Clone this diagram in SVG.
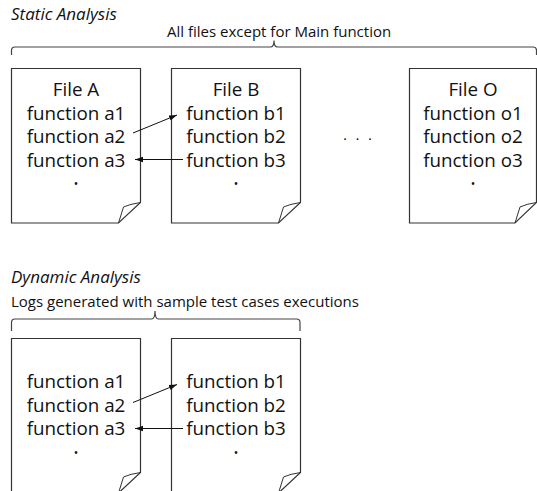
<svg xmlns="http://www.w3.org/2000/svg" width="537" height="491" viewBox="0 0 537 491">
<defs>
<style>
.doc{fill:#fff;stroke:#333;stroke-width:1.2;stroke-linejoin:miter}
.fold{fill:none;stroke:#333;stroke-width:1}
.t{font-family:"Open Sans","Noto Sans","DejaVu Sans",sans-serif;font-size:18.8px;fill:#111;text-anchor:middle}
.dot{font-family:"Open Sans","DejaVu Sans",sans-serif;font-size:12px;fill:#111;text-anchor:middle}
.title{font-family:"Open Sans","Noto Sans",sans-serif;font-size:17px;font-style:italic;fill:#111}
.lbl{font-family:"Open Sans","Noto Sans",sans-serif;font-size:15px;fill:#111}
.brace{fill:none;stroke:#444;stroke-width:1.2}
.conn{fill:none;stroke:#111;stroke-width:1}
</style>
<marker id="ah" markerWidth="9" markerHeight="7" refX="8" refY="3.5" orient="auto" markerUnits="userSpaceOnUse">
<path d="M0,0.7 L8,3.5 L0,6.3 Z" fill="#111"/>
</marker>
</defs>
<rect width="537" height="491" fill="#fff"/>

<text class="title" x="11" y="20">Static Analysis</text>
<text class="lbl" x="167" y="37">All files except for Main function</text>
<path class="brace" d="M11.5,55 V50.5 Q11.5,47 15,47 H270.5 Q274,47 274,40.5 Q274,47 277.5,47 H533 Q536.5,47 536.5,50.5 V55"/>

<g id="fileA">
<path class="doc" d="M11.5,68.5 H140.5 V202.5 L118.5,223 H11.5 Z"/>
<path class="fold" d="M140.5,202.5 Q130,204 123.5,207 L118.5,223"/>
<text class="t" x="76" y="95.5">File A</text>
<text class="t" x="76" y="119.5">function a1</text>
<text class="t" x="76" y="143">function a2</text>
<text class="t" x="76" y="166.5">function a3</text>
<text class="dot" x="76" y="188">•</text>
</g>

<g id="fileB">
<path class="doc" d="M171.5,68.5 H300.5 V202.5 L278.5,223 H171.5 Z"/>
<path class="fold" d="M300.5,202.5 Q290,204 283.5,207 L278.5,223"/>
<text class="t" x="236" y="95.5">File B</text>
<text class="t" x="236" y="119.5">function b1</text>
<text class="t" x="236" y="143">function b2</text>
<text class="t" x="236" y="166.5">function b3</text>
<text class="dot" x="236" y="188">•</text>
</g>

<g id="ellipsis">
<text class="dot" x="345 357.5 370" y="141.5" style="font-size:8px">•••</text>
</g>

<g id="fileO">
<path class="doc" d="M409.5,68.5 H536.5 V202.5 L515,223 H409.5 Z"/>
<path class="fold" d="M536.5,202.5 Q526,204 520,207 L515,223"/>
<text class="t" x="473" y="95.5">File O</text>
<text class="t" x="473" y="119.5">function o1</text>
<text class="t" x="473" y="143">function o2</text>
<text class="t" x="473" y="166.5">function o3</text>
<text class="dot" x="473" y="188">•</text>
</g>

<text class="title" x="11" y="283">Dynamic Analysis</text>
<text class="lbl" x="11" y="307">Logs generated with sample test cases executions</text>
<path class="brace" d="M11.5,331 V322.5 Q11.5,319 15,319 H151.5 Q155,319 155,311 Q155,319 158.5,319 H296.5 Q300,319 300,322.5 V331"/>

<g id="logA">
<path class="doc" d="M11.5,338.5 H140.5 V472.5 L118.5,493 H11.5 Z"/>
<path class="fold" d="M140.5,472.5 Q130,474 123.5,477 L118.5,493"/>
<text class="t" x="76" y="388">function a1</text>
<text class="t" x="76" y="411.5">function a2</text>
<text class="t" x="76" y="435">function a3</text>
<text class="dot" x="76" y="457">•</text>
</g>

<g id="logB">
<path class="doc" d="M171.5,338.5 H300.5 V472.5 L278.5,493 H171.5 Z"/>
<path class="fold" d="M300.5,472.5 Q290,474 283.5,477 L278.5,493"/>
<text class="t" x="236" y="388">function b1</text>
<text class="t" x="236" y="411.5">function b2</text>
<text class="t" x="236" y="435">function b3</text>
<text class="dot" x="236" y="457">•</text>
</g>

<g id="connectors">
<line class="conn" x1="133" y1="133" x2="177" y2="115" marker-end="url(#ah)"/>
<line class="conn" x1="183" y1="159.5" x2="135" y2="159.5" marker-end="url(#ah)"/>
<line class="conn" x1="133" y1="402.5" x2="177" y2="384.5" marker-end="url(#ah)"/>
<line class="conn" x1="183" y1="428.5" x2="135" y2="428.5" marker-end="url(#ah)"/>
</g>
</svg>
